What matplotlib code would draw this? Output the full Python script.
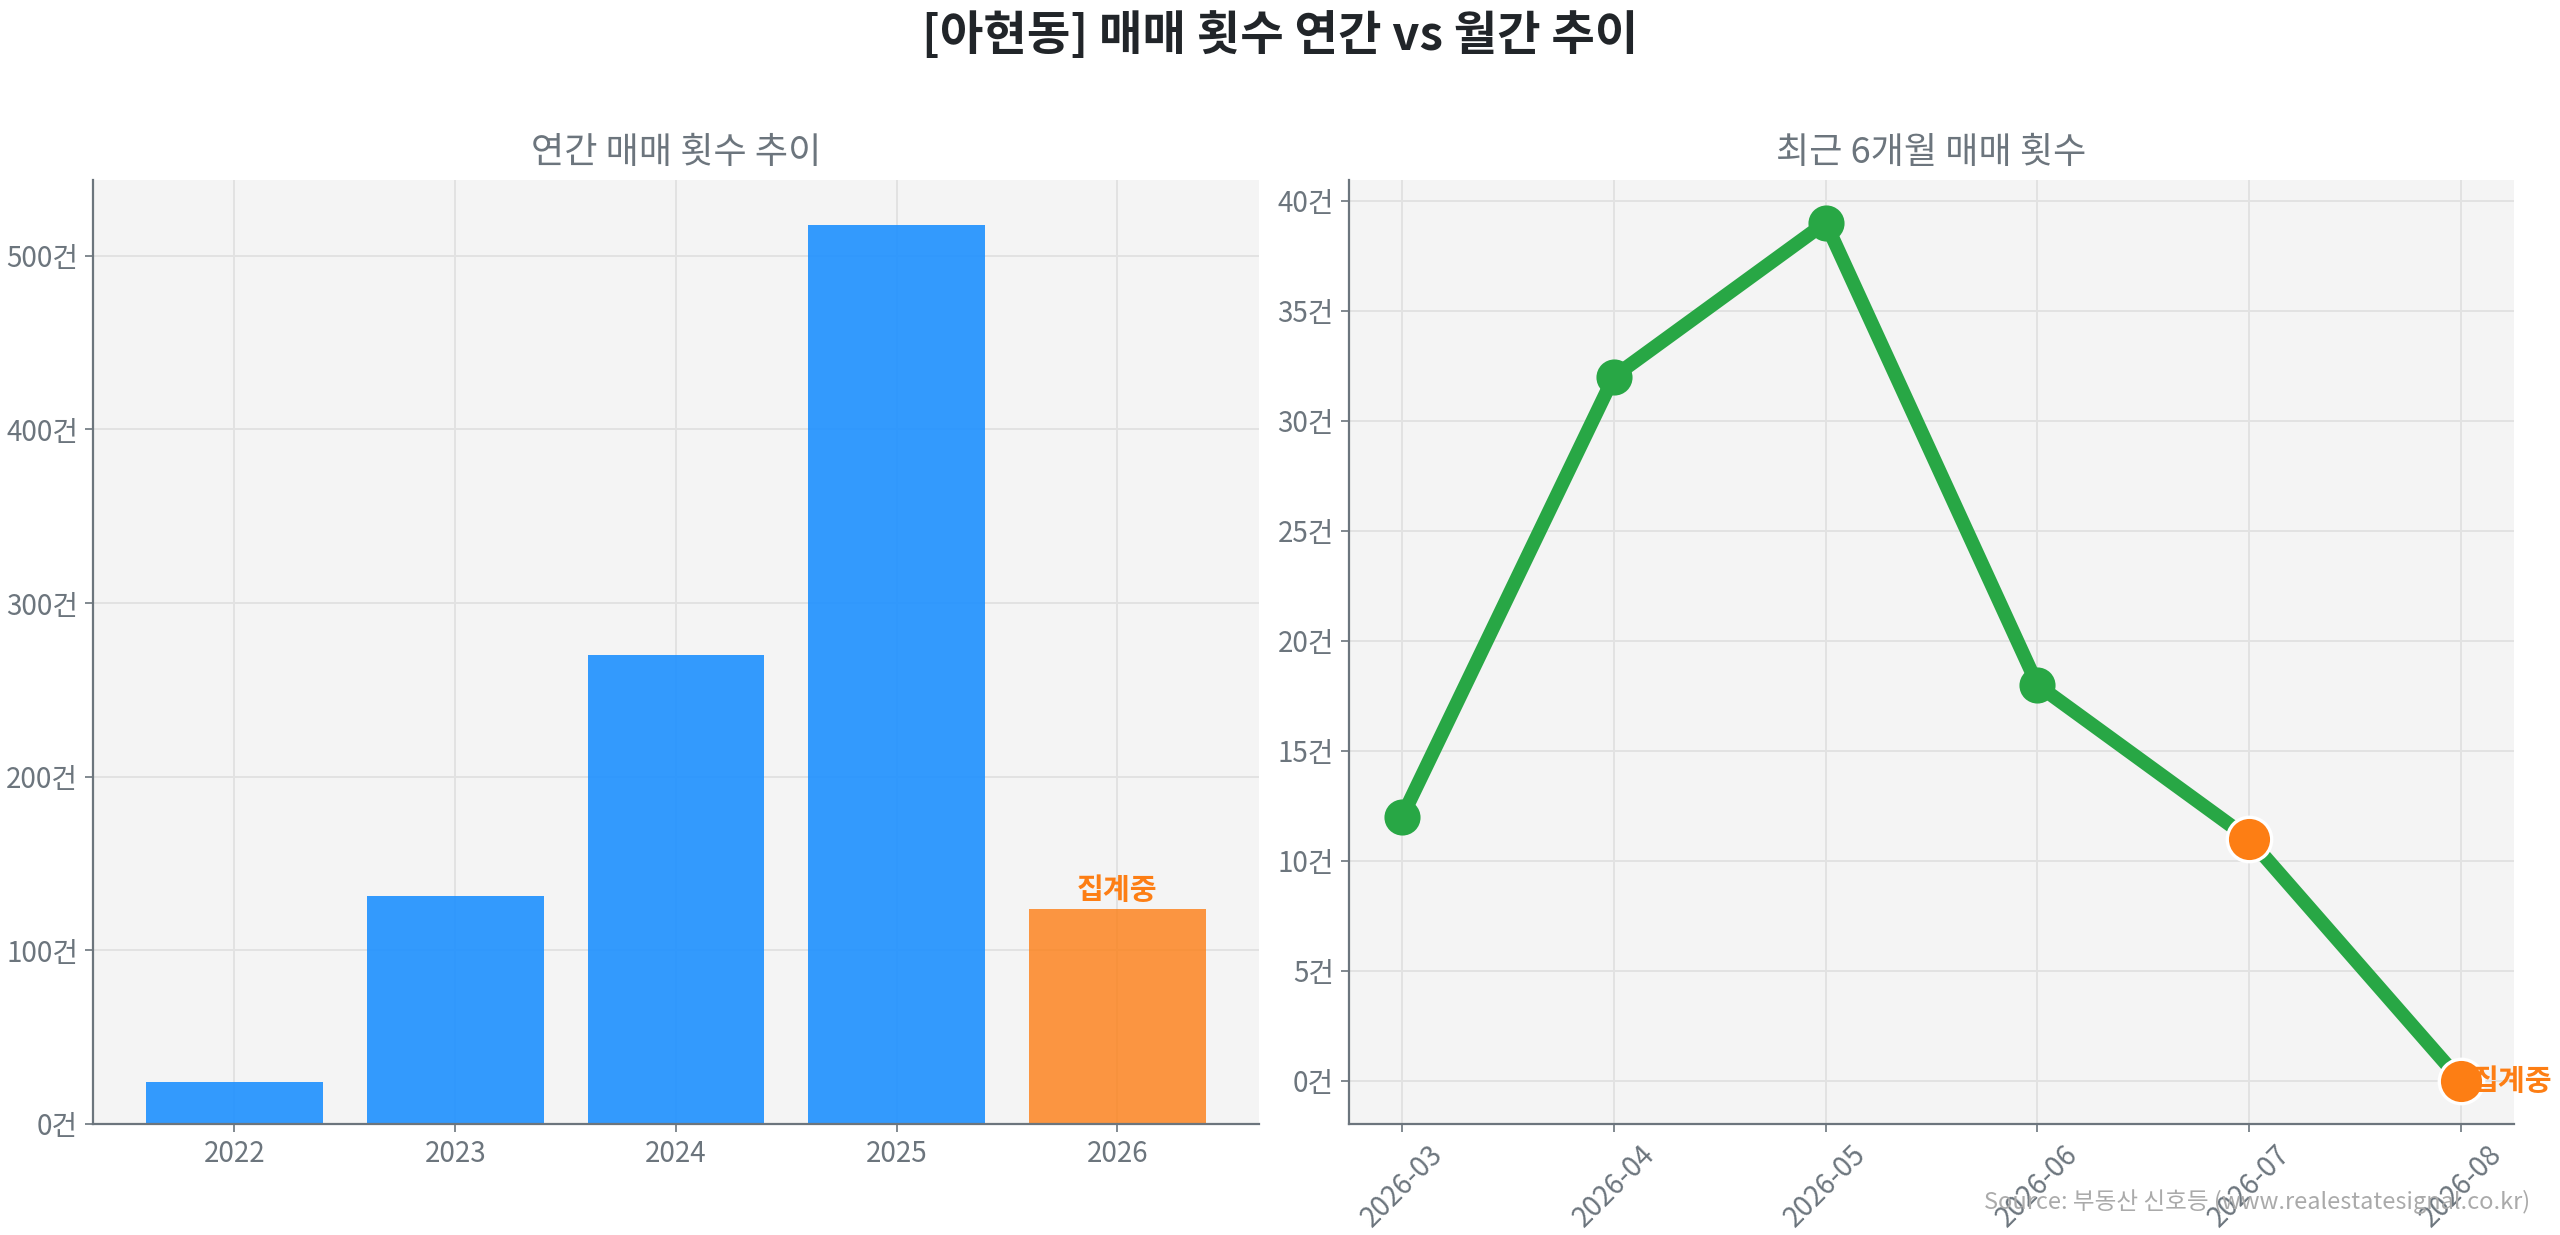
import matplotlib
matplotlib.use("Agg")
import matplotlib.pyplot as plt
from matplotlib.ticker import FuncFormatter

plt.rcParams['font.family'] = ['Noto Sans CJK KR', 'DejaVu Sans']

years = ['2022', '2023', '2024', '2025', '2026']
year_counts = [24, 131, 270, 518, 124]
months = ['2026-03', '2026-04', '2026-05', '2026-06', '2026-07', '2026-08']
month_counts = [12, 32, 39, 18, 11, 0]
partial_months = ['2026-07', '2026-08']

title = '[아현동] 매매 횟수 연간 vs 월간 추이'
left_title = '연간 매매 횟수 추이'
right_title = '최근 6개월 매매 횟수'
pending_label = '집계중'
source = 'Source: 부동산 신호등 (www.realestatesignal.co.kr)'

BLUE = '#1E90FF'
ORANGE = '#fd7e14'
GREEN = '#28a745'
GRAY = '#6c757d'
DARK = '#212529'
BG = '#F4F4F4'

fig = plt.figure(figsize=(12.8, 6.175), dpi=200)
ax1 = fig.add_axes([0.0364, 0.090, 0.4553, 0.7645])
ax2 = fig.add_axes([0.527, 0.090, 0.455, 0.7645])

fmt = FuncFormatter(lambda v, p: f'{v:.0f}건')

for ax in (ax1, ax2):
    ax.set_facecolor(BG)
    ax.grid(True, color='#e2e2e2', linewidth=0.7)
    ax.set_axisbelow(True)
    for s in ('top', 'right'):
        ax.spines[s].set_visible(False)
    for s in ('left', 'bottom'):
        ax.spines[s].set_color(GRAY)
        ax.spines[s].set_linewidth(0.8)
    ax.tick_params(colors=GRAY, labelsize=10, width=0.6, length=3, pad=2.5)
    ax.yaxis.set_major_formatter(fmt)

# left: bars
colors = [BLUE] * (len(years) - 1) + [ORANGE]
alphas = [0.9] * (len(years) - 1) + [0.8]
bars = ax1.bar(years, year_counts, width=0.8, color=colors)
for b, a in zip(bars, alphas):
    b.set_alpha(a)
ax1.set_ylim(0, max(year_counts) * 1.05)
ax1.set_yticks(range(0, 501, 100))
ax1.text(len(years) - 1, year_counts[-1] + 2, pending_label, ha='center', va='bottom',
         color=ORANGE, fontsize=10.5, fontweight='bold')
ax1.set_title(left_title, fontsize=13, color=GRAY, pad=6)

# right: line
x = list(range(len(months)))
ax2.plot(x, month_counts, color=GREEN, linewidth=5, marker='o', markersize=12,
         markeredgecolor=GREEN, zorder=3)
px = [i for i, m in enumerate(months) if m in partial_months]
py = [month_counts[i] for i in px]
ax2.plot(px, py, linestyle='none', marker='o', markersize=16, color=ORANGE,
         markeredgecolor='white', markeredgewidth=1.2, zorder=4)
ax2.text(px[-1] + 0.05, py[-1], pending_label, ha='left', va='center',
         color=ORANGE, fontsize=10.5, fontweight='bold', zorder=5)
ax2.set_xticks(x)
ax2.set_xticklabels(months, rotation=45)
ax2.set_yticks(range(0, 41, 5))
ax2.set_title(right_title, fontsize=13, color=GRAY, pad=6)

fig.suptitle(title, fontsize=17, fontweight='bold', color=DARK, y=0.99)
fig.text(0.9885, 0.017, source, ha='right', va='bottom', fontsize=8.5, color='#aaaaaa')

fig.savefig('out.png', dpi=200)
